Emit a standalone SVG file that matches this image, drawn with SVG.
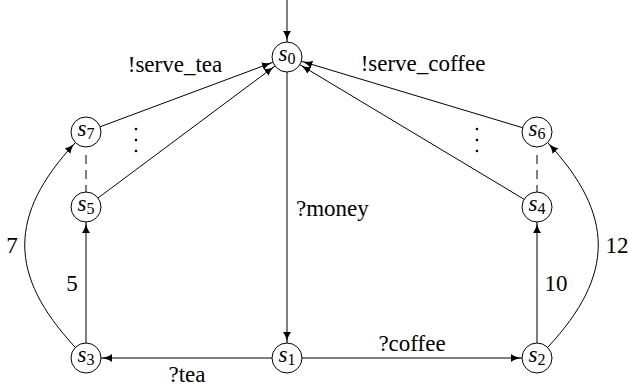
<svg xmlns="http://www.w3.org/2000/svg" width="629" height="388" viewBox="0 0 629 388">
  <style>
    .state circle { fill: #fff; stroke: #000; stroke-width: 1; }
    .state text { font-size: 23px; fill: #000; text-anchor: middle; }
    .state .sub { font-style: normal; font-size: 16px; }
    .edge { fill: none; stroke: #000; stroke-width: 1; }
    .arrow { marker-end: url(#tip); }
    .dashed { stroke-dasharray: 9 6; }
    .lbl { font-size: 23px; fill: #000; }
  </style>
  <defs>
    <marker id="tip" markerUnits="userSpaceOnUse" markerWidth="12" markerHeight="9" refX="11" refY="4" orient="auto">
      <path d="M0,0 C3.5,2.6 7,3.6 11,4 C7,4.4 3.5,5.4 0,8 z" fill="#000"/>
    </marker>
  </defs>

  <g font-family="Liberation Serif, Times New Roman, DejaVu Serif, serif">
  <!-- transitions -->
  <g id="edges">
    <line class="edge arrow" x1="287" y1="0" x2="287" y2="42"/>
    <line class="edge arrow" x1="287" y1="72" x2="287" y2="343"/>
    <line class="edge arrow" x1="272" y1="358" x2="101" y2="358"/>
    <line class="edge arrow" x1="302" y1="358" x2="522" y2="358"/>
    <line class="edge arrow" x1="86" y1="343" x2="86" y2="222"/>
    <line class="edge arrow" x1="537" y1="343" x2="537" y2="222"/>
    <path class="edge arrow" d="M75,347 C8,275 8,215 75,143"/>
    <path class="edge arrow" d="M548,347 C615,275 615,215 548,143"/>
    <line class="edge dashed" x1="86" y1="155" x2="86" y2="192"/>
    <line class="edge dashed" x1="537" y1="155" x2="537" y2="192"/>
    <line class="edge arrow" x1="100.1" y1="126.8" x2="272.9" y2="62.3"/>
    <line class="edge arrow" x1="98" y1="198" x2="275" y2="66"/>
    <line class="edge arrow" x1="524.1" y1="199.3" x2="299.9" y2="64.7"/>
    <line class="edge arrow" x1="522.6" y1="127.7" x2="301.4" y2="61.3"/>
    <!-- vertical ellipses between the serve branches -->
    <g fill="#000">
      <circle cx="136" cy="129" r="1.3"/>
      <circle cx="136" cy="140" r="1.3"/>
      <circle cx="136" cy="151" r="1.3"/>
      <circle cx="477" cy="129" r="1.3"/>
      <circle cx="477" cy="140" r="1.3"/>
      <circle cx="477" cy="151" r="1.3"/>
    </g>
    <text class="lbl" x="175" y="72" text-anchor="middle">!serve_tea</text>
    <text class="lbl" x="423" y="71" text-anchor="middle">!serve_coffee</text>
    <text class="lbl" x="296" y="216">?money</text>
    <text class="lbl" x="412" y="351" text-anchor="middle">?coffee</text>
    <text class="lbl" x="187" y="382" text-anchor="middle">?tea</text>
    <text class="lbl" x="72" y="291" text-anchor="middle">5</text>
    <text class="lbl" x="12" y="253" text-anchor="middle">7</text>
    <text class="lbl" x="556" y="291" text-anchor="middle">10</text>
    <text class="lbl" x="617" y="253" text-anchor="middle">12</text>
  </g>

  <!-- states -->
  <g id="s0" class="state"><circle cx="287" cy="57" r="15"/><text x="287" y="61"><tspan font-style="italic">s</tspan><tspan class="sub" dy="3">0</tspan></text></g>
  <g id="s1" class="state"><circle cx="287" cy="358" r="15"/><text x="287" y="362"><tspan font-style="italic">s</tspan><tspan class="sub" dy="3">1</tspan></text></g>
  <g id="s2" class="state"><circle cx="537" cy="358" r="15"/><text x="537" y="362"><tspan font-style="italic">s</tspan><tspan class="sub" dy="3">2</tspan></text></g>
  <g id="s3" class="state"><circle cx="86" cy="358" r="15"/><text x="86" y="362"><tspan font-style="italic">s</tspan><tspan class="sub" dy="3">3</tspan></text></g>
  <g id="s4" class="state"><circle cx="537" cy="207" r="15"/><text x="537" y="211"><tspan font-style="italic">s</tspan><tspan class="sub" dy="3">4</tspan></text></g>
  <g id="s5" class="state"><circle cx="86" cy="207" r="15"/><text x="86" y="211"><tspan font-style="italic">s</tspan><tspan class="sub" dy="3">5</tspan></text></g>
  <g id="s6" class="state"><circle cx="537" cy="132" r="15"/><text x="537" y="136"><tspan font-style="italic">s</tspan><tspan class="sub" dy="3">6</tspan></text></g>
  <g id="s7" class="state"><circle cx="86" cy="132" r="15"/><text x="86" y="136"><tspan font-style="italic">s</tspan><tspan class="sub" dy="3">7</tspan></text></g>
  </g>
</svg>
